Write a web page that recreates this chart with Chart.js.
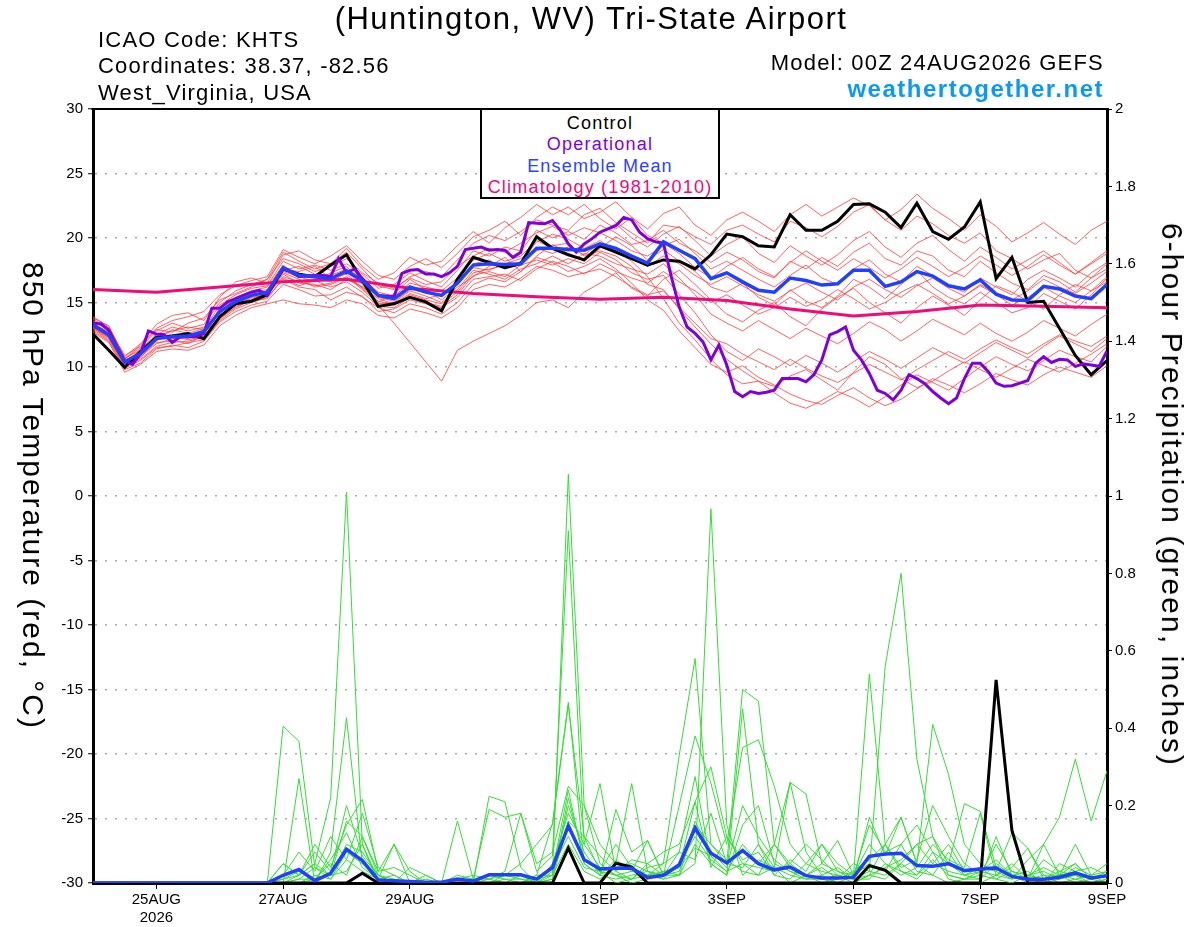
<!DOCTYPE html>
<html><head><meta charset="utf-8">
<script src="https://cdn.jsdelivr.net/npm/chart.js@4.4.1/dist/chart.umd.min.js"></script>
<style>
html,body{margin:0;padding:0;background:#fff;}
#wrap{position:relative;width:1200px;height:927px;overflow:hidden;font-family:'Liberation Sans',Arial,Helvetica,sans-serif;background:#fff;}
canvas{position:absolute;left:0;top:0;}
.t{position:absolute;white-space:nowrap;line-height:1;color:#000;}
#legend{position:absolute;left:480px;top:108px;width:240px;height:91px;box-sizing:border-box;border:2px solid #000;background:#fff;}
#legend div{position:absolute;left:0;width:100%;text-align:center;font-size:18px;letter-spacing:1.2px;line-height:1;white-space:nowrap;}
</style></head><body>
<div id="wrap">
<canvas id="c" width="1200" height="927"></canvas>
<div class="t" style="left:591px;top:3px;font-size:31px;letter-spacing:1.5px;transform:translateX(-50%)">(Huntington, WV) Tri-State Airport</div>
<div class="t" style="left:98px;top:29px;font-size:22px;letter-spacing:1.2px">ICAO Code: KHTS</div>
<div class="t" style="left:98px;top:55px;font-size:22px;letter-spacing:1.2px">Coordinates: 38.37, -82.56</div>
<div class="t" style="left:98px;top:82px;font-size:22px;letter-spacing:1.2px">West_Virginia, USA</div>
<div class="t" style="right:96px;top:52px;font-size:22px;letter-spacing:1.2px">Model: 00Z 24AUG2026 GEFS</div>
<div class="t" style="right:96px;top:77px;font-size:24px;letter-spacing:1.5px;font-weight:bold;color:#0a9af5">weathertogether.net</div>
<div class="t" style="left:33px;top:496px;font-size:30px;letter-spacing:2px;transform:translate(-50%,-50%) rotate(90deg)">850 hPa Temperature (red, °C)</div>
<div class="t" style="left:1172px;top:495px;font-size:30px;letter-spacing:2.1px;transform:translate(-50%,-50%) rotate(90deg)">6-hour Precipitation (green, inches)</div>
<div id="legend">
  <div style="top:4px;color:#000">Control</div>
  <div style="top:25px;color:#8000dd">Operational</div>
  <div style="top:46.5px;color:#2a44ff">Ensemble Mean</div>
  <div style="top:68px;color:#ee0a7a">Climatology (1981-2010)</div>
</div>
</div>
<script>
// ---------------- DATA ----------------
// Time steps (hours from 00Z 24AUG2026)
const STEP_HOURS = 6;      // ensemble / control / mean
const OP_STEP_HOURS = 3;   // operational run
const CLIM_STEP_HOURS = 24;// climatology (daily)

const tickHours  = [24, 72, 120, 192, 240, 288, 336, 384];
const tickLabels = [['25AUG','2026'], '27AUG', '29AUG', '1SEP', '3SEP', '5SEP', '7SEP', '9SEP'];

// 850 hPa temperature (C)
const controlTemp = [12.55,11.3,9.97,11.2,12.3,12.4,12.6,12.2,
 13.9,14.9,15.1,15.6,17.6,17.2,17.0,17.9,
 18.7,16.7,14.7,14.9,15.4,15.05,14.35,16.8,
 18.5,18.1,17.7,18.0,20.1,19.2,18.7,18.3,
 19.4,18.9,18.4,17.9,18.3,18.2,17.6,18.7,
 20.3,20.1,19.4,19.3,21.8,20.6,20.6,21.3,
 22.6,22.65,22.0,20.8,22.7,20.5,19.9,20.85,
 22.8,16.85,18.5,15.0,15.1,13.0,10.9,9.4,
 10.5];

const meanTemp = [13.25,12.5,10.4,11.05,12.2,12.35,12.4,12.75,
 14.3,15.05,15.55,15.8,17.7,17.1,17.0,16.85,
 17.45,16.7,15.55,15.3,16.2,15.8,15.55,16.5,
 17.9,18.0,17.95,18.0,19.2,19.2,19.1,19.05,
 19.55,19.2,18.6,18.05,19.7,19.05,18.4,16.85,
 17.3,16.6,15.95,15.8,16.9,16.7,16.35,16.45,
 17.5,17.5,16.25,16.6,17.4,17.05,16.3,16.05,
 16.75,15.65,15.2,15.15,16.25,16.05,15.5,15.3,
 16.4];

const operationalTemp = [13.4,13.35,12.85,11.6,10.5,10.2,11.05,12.8,
 12.55,12.5,11.9,12.35,12.35,12.35,12.6,14.55,
 14.55,15.05,15.3,15.55,15.8,15.95,15.55,16.7,
 17.6,17.35,17.0,17.1,17.1,17.1,17.0,18.4,
 17.3,17.6,16.85,16.2,15.55,15.5,15.45,17.25,
 17.5,17.55,17.2,17.2,17.0,17.3,17.8,19.1,
 19.2,19.3,19.05,19.1,19.05,18.5,18.9,21.2,
 21.15,21.1,21.35,20.6,19.55,18.9,19.55,19.95,
 20.45,20.7,20.95,21.6,21.4,20.45,19.95,19.7,
 19.6,17.0,14.65,13.1,12.6,11.95,10.55,11.7,
 10.15,8.1,7.7,8.1,7.95,8.05,8.2,9.1,
 9.1,9.1,8.85,9.4,10.55,12.5,12.75,13.1,
 11.3,10.55,9.5,8.2,7.95,7.45,8.2,9.4,
 9.1,8.7,8.1,7.6,7.15,7.6,9.1,10.3,
 10.3,9.65,8.75,8.5,8.55,8.75,8.95,10.3,
 10.8,10.35,10.6,10.55,10.05,10.25,10.15,10.05,
 11.25];

const climatologyTemp = [16.0,15.8,16.2,16.6,16.8,16.1,15.7,15.45,15.25,15.4,15.15,14.5,13.95,14.3,14.8,14.7,14.6];

const memberTemp01 = [13.6,12.8,10.6,11.5,12.8,13.4,13.0,13.3, 15.0,15.9,16.4,16.8,18.9,18.2,17.6,18.0, 18.9,17.6,16.3,16.0,17.0,17.4,17.0,18.3, 19.6,20.2,19.8,20.5,21.4,21.0,20.6,21.8, 22.3,21.2,20.4,19.6,21.0,20.8,20.1,19.5, 20.6,21.0,20.3,19.7,21.3,20.8,20.1,20.9, 22.0,22.6,21.4,20.6,21.7,21.1,20.2,19.6, 20.4,19.0,18.4,17.6,18.3,18.8,17.5,16.9, 18.0];
const memberTemp02 = [13.0,12.2,10.1,10.6,11.6,11.9,12.0,12.3, 13.8,14.6,15.2,15.5,17.2,16.5,16.4,16.0, 16.8,16.2,15.1,14.8,15.6,15.2,14.9,15.8, 17.3,17.6,17.9,18.1,19.7,20.3,19.9,19.2, 19.8,19.0,18.2,17.0,15.3,13.4,12.1,10.6, 9.4,8.7,8.9,8.5,9.3,9.8,9.0,8.2, 9.6,10.8,10.2,9.1,8.4,8.9,9.7,10.4, 9.8,9.2,9.9,10.6,10.1,9.6,10.3,11.0, 11.8];
const memberTemp03 = [13.2,12.4,10.3,11.0,12.6,12.1,11.8,12.5, 14.6,15.2,15.0,15.9,17.6,17.4,17.8,16.9, 17.2,16.1,15.0,15.7,16.8,16.0,15.2,16.2, 17.0,17.8,18.5,17.4,18.6,19.5,18.8,18.2, 19.2,20.1,19.4,18.3,19.1,18.2,17.4,16.2, 15.8,16.5,15.4,14.8,16.0,15.1,14.6,15.5, 16.8,16.2,15.3,16.4,17.5,16.2,15.4,14.9, 15.8,15.0,14.2,14.6,15.7,15.1,14.5,15.6, 16.9];
const memberTemp04 = [13.4,12.6,10.5,11.2,12.0,12.9,12.6,13.0, 14.2,15.4,15.9,16.2,17.9,17.0,16.6,17.3, 17.8,16.4,14.8,13.4,11.9,10.4,8.9,11.3, 12.0,12.6,13.2,14.0,15.0,15.2,14.6,15.8, 16.5,17.3,16.1,15.5,16.8,17.5,16.4,15.2, 14.1,13.5,14.4,15.0,13.9,13.2,14.5,15.4, 16.1,15.0,14.2,13.4,14.6,15.5,14.8,14.0, 15.2,16.3,15.8,15.1,14.5,15.6,16.4,15.9, 17.0];
const memberTemp05 = [13.9,13.1,10.8,11.8,13.3,14.0,14.2,13.6, 15.4,16.6,16.9,16.5,18.7,19.0,18.3,18.0, 19.2,17.8,16.8,17.3,18.5,17.9,18.2,19.4, 20.5,19.6,20.8,21.6,22.6,21.8,22.4,21.5, 22.0,22.8,21.6,20.7,21.9,22.4,21.0,20.2, 21.4,22.0,21.3,20.5,21.8,22.6,21.7,22.4, 23.1,22.5,21.4,22.2,23.4,22.3,21.5,20.6, 21.8,20.9,19.7,20.4,21.2,20.3,19.5,20.6, 21.3];
const memberTemp06 = [12.8,12.0,9.8,10.3,11.4,11.7,11.5,12.0, 13.5,14.3,14.8,15.1,16.4,16.0,15.5,15.6, 16.2,15.4,14.6,14.2,14.9,14.6,14.1,15.0, 16.4,16.9,16.6,17.4,18.5,18.1,17.4,17.8, 18.4,17.6,16.5,15.2,14.4,12.8,11.5,10.2, 9.6,10.1,9.2,8.6,7.9,7.4,7.1,7.8, 8.4,7.6,7.0,7.5,8.3,9.1,8.6,8.0, 8.7,9.5,9.0,8.6,9.4,10.0,9.6,9.2, 10.1];
const memberTemp07 = [13.5,12.9,10.7,11.3,12.4,12.8,13.1,12.9, 14.8,15.6,16.1,16.3,18.2,17.6,17.9,17.5, 18.0,17.2,16.1,16.4,17.3,16.7,16.2,17.5, 19.0,18.6,19.3,19.0,20.6,20.0,20.5,19.9, 21.0,20.4,19.5,19.8,20.6,19.6,19.0,18.1, 18.9,18.3,17.4,16.9,18.2,17.6,18.5,17.8, 18.9,19.6,18.4,17.9,19.0,18.6,17.5,17.0, 18.2,17.3,16.5,16.0,17.1,16.6,15.8,16.9, 17.6];
const memberTemp08 = [13.1,12.3,10.2,10.8,11.8,12.2,12.3,12.6, 13.9,14.8,15.4,15.6,17.0,16.6,16.3,16.5, 17.0,16.0,14.9,15.0,15.9,15.5,15.0,16.0, 17.5,17.2,16.8,17.6,18.0,18.6,18.0,18.8, 18.6,18.0,17.6,17.2,18.0,16.9,15.6,14.1, 13.4,12.8,13.6,12.9,12.2,13.0,12.4,11.8, 12.6,13.5,12.9,12.0,12.8,13.7,13.1,12.5, 13.4,12.6,12.0,12.7,13.6,13.0,12.4,13.3, 14.1];
const memberTemp09 = [13.3,12.5,10.4,11.1,12.3,12.5,12.2,12.8, 14.4,14.9,15.6,15.9,17.4,17.0,16.9,16.6, 17.3,16.5,15.4,15.1,16.0,15.8,15.5,16.4, 18.0,18.3,17.6,18.2,19.0,19.4,19.6,18.6, 19.0,18.6,17.8,16.4,16.0,14.5,13.1,11.8, 10.6,9.7,8.9,8.0,7.2,6.8,7.4,8.1, 7.6,6.9,7.7,8.6,9.4,8.8,8.2,9.1, 10.0,10.8,10.2,9.7,10.5,11.3,10.8,10.4, 11.6];
const memberTemp10 = [13.7,13.0,10.9,11.6,12.9,12.7,13.4,13.8, 15.2,15.7,16.2,16.8,18.4,18.0,17.4,17.8, 18.4,17.3,16.5,16.1,16.9,16.4,16.6,17.8, 18.6,19.2,18.9,19.6,20.4,20.9,20.2,20.8, 20.4,21.1,20.0,19.3,20.3,20.9,19.8,18.6, 19.5,20.1,18.8,18.1,19.4,18.6,17.9,18.7, 19.8,20.5,19.3,18.5,19.6,20.2,19.1,18.2, 19.3,18.5,17.6,18.3,19.0,18.1,17.2,18.0, 18.8];
const memberTemp11 = [12.9,12.1,9.9,10.5,11.5,11.6,11.9,12.1, 13.6,14.5,15.0,15.4,16.8,16.2,16.0,15.2, 15.8,15.5,14.3,14.5,15.2,14.9,14.6,15.4, 16.8,17.0,17.2,16.7,17.6,18.2,17.8,17.2, 18.0,17.4,16.9,16.5,17.4,16.6,15.9,15.0, 15.6,14.8,14.1,14.6,15.4,14.7,15.2,16.0, 15.3,14.5,15.0,15.8,16.4,15.7,14.9,15.5, 16.3,15.6,14.8,15.4,16.2,15.5,15.0,15.9, 16.6];
const memberTemp12 = [13.4,12.7,10.2,11.4,12.5,13.1,12.8,13.1, 14.1,15.3,15.8,16.0,17.5,17.8,17.2,17.1, 17.6,16.9,15.8,15.5,16.5,16.2,15.9,16.9, 18.3,18.8,18.2,18.6,19.8,19.2,19.0,19.4, 20.4,19.8,19.0,18.6,19.4,19.9,18.8,17.6, 18.2,17.5,16.8,16.2,17.1,17.9,16.9,16.4, 17.6,18.3,17.2,16.6,17.8,17.1,16.3,15.8, 16.9,16.2,15.6,16.8,17.5,16.9,16.2,17.3, 18.1];
const memberTemp13 = [13.0,12.3,10.0,10.9,11.9,12.0,12.4,12.2, 13.7,14.7,15.1,15.3,16.9,16.3,16.7,16.2, 16.6,15.8,14.7,14.6,15.4,15.0,14.7,15.6, 17.1,17.4,17.0,17.9,18.3,17.9,18.4,18.0, 18.9,18.3,17.3,16.8,17.1,15.6,14.2,12.5, 11.2,10.5,11.4,10.8,10.1,10.9,10.3,9.6, 10.4,11.2,10.6,9.9,10.7,11.5,10.9,10.3, 11.1,11.9,11.3,10.7,11.6,12.4,11.8,11.2, 12.2];
const memberTemp14 = [13.8,13.2,10.6,11.7,13.0,13.6,13.9,14.3, 15.6,16.3,16.7,17.0,19.1,18.5,18.0,18.6, 19.4,18.2,17.1,16.8,17.8,18.4,17.7,18.8, 20.1,20.6,21.3,20.2,21.6,22.4,21.8,22.6, 21.5,20.7,21.6,20.2,19.6,18.8,17.7,16.9, 17.8,18.5,17.6,17.0,18.1,19.0,18.2,17.5, 18.4,17.7,16.9,17.6,18.5,17.8,17.0,17.7, 18.6,17.9,17.1,17.8,18.7,17.9,17.2,18.1, 19.0];
const memberTemp15 = [13.1,12.4,10.3,10.7,12.1,12.4,12.1,12.4, 14.0,14.8,15.3,15.7,17.3,16.8,16.2,16.4, 16.9,16.2,15.3,14.9,15.7,15.3,15.6,16.6, 17.7,17.5,18.0,18.4,19.2,18.8,19.3,18.7, 19.6,19.0,18.4,17.8,18.6,18.0,17.1,16.4, 17.0,16.3,15.6,15.1,15.9,16.5,15.8,15.2, 16.2,16.8,16.0,15.4,16.3,16.9,16.1,15.5, 16.4,15.7,15.2,15.9,16.8,16.2,15.7,16.5, 17.4];
const memberTemp16 = [12.7,11.9,9.6,10.2,11.2,11.4,11.3,11.7, 13.2,14.0,14.6,14.9,15.2,14.9,14.8,14.6, 15.2,14.9,14.0,13.8,14.5,14.2,13.8,14.6, 16.0,16.4,16.2,16.9,17.8,17.5,17.0,17.3, 17.6,17.0,16.2,15.6,15.9,14.6,13.4,12.2, 11.8,11.0,10.4,9.8,10.6,9.9,9.3,8.8, 9.5,10.2,9.6,9.0,9.8,10.5,11.2,10.6, 11.4,12.1,11.5,11.0,11.8,12.5,12.0,11.6, 12.4];

// 6-hour precipitation (inches)
const controlPrecip = [0,0,0,0,0,0,0,0, 0,0,0,0,0,0,0,0, 0,0.025,0,0,0,0,0,0, 0,0,0,0,0,0,0.09,0, 0,0.051,0.041,0,0,0,0,0, 0,0,0,0,0,0,0,0, 0,0.045,0.033,0,0,0,0,0, 0,0.525,0.136,0,0,0,0,0, 0];
const meanPrecip = [0,0,0,0,0,0,0,0, 0,0,0,0,0.02,0.035,0.006,0.025, 0.087,0.058,0.008,0.006,0.004,0.002,0.002,0.01, 0.005,0.021,0.021,0.021,0.01,0.04,0.148,0.06, 0.036,0.038,0.038,0.014,0.02,0.047,0.142,0.077, 0.052,0.084,0.05,0.034,0.041,0.019,0.013,0.013, 0.015,0.069,0.075,0.077,0.045,0.043,0.05,0.032, 0.036,0.039,0.017,0.01,0.01,0.015,0.026,0.013, 0.019];

const memberPrecip01 = [0,0,0,0,0,0,0,0, 0,0,0,0,0,0.02,0.05,0.22, 1.01,0.1,0,0,0,0,0,0, 0,0,0.02,0.05,0.1,0.15,0.46,0.12, 0.03,0,0.01,0.05,0.08,0.1,0.21,0.3, 0.12,0.05,0.02,0.1,0.26,0.08,0.02,0, 0,0.02,0.1,0.17,0.05,0.02,0,0.01, 0.03,0.06,0.02,0,0,0.01,0.04,0.02, 0.05];
const memberPrecip02 = [0,0,0,0,0,0,0,0, 0,0,0,0,0.405,0.366,0.04,0.01, 0.06,0.03,0.01,0,0,0,0,0, 0,0.224,0.21,0.04,0,0.02,1.056,0.2, 0.05,0.02,0,0.01,0.03,0.02,0.05,0.967, 0.15,0.02,0.06,0.04,0,0.02,0.05,0.11, 0.02,0.54,0.1,0.03,0.02,0.08,0.01,0, 0,0.02,0.01,0.06,0.1,0.02,0,0.01, 0.02];
const memberPrecip03 = [0,0,0,0,0,0,0,0, 0,0,0,0,0,0.27,0,0.08, 0.427,0.05,0.02,0,0,0,0,0.16, 0.01,0.19,0.17,0.18,0.03,0.07,0.91,0.1, 0.257,0.03,0.01,0.02,0.05,0.33,0.58,0.1, 0.05,0.5,0.47,0.1,0.05,0.02,0,0.01, 0.05,0.03,0.56,0.8,0.32,0.12,0.02,0.01, 0.01,0.05,0.02,0.03,0,0.02,0.05,0.01, 0];
const memberPrecip04 = [0,0,0,0,0,0,0,0, 0,0,0,0,0.05,0.02,0.1,0.04, 0.15,0.216,0.03,0.1,0.03,0,0,0, 0,0,0.01,0,0.02,0.155,0.467,0.05, 0.02,0.19,0.08,0.11,0.02,0.2,0.38,0.258, 0.1,0.35,0.37,0.25,0.1,0.05,0.03,0.02, 0.01,0.17,0.07,0.17,0.05,0.41,0.28,0.1, 0.05,0.03,0.13,0.09,0.02,0.02,0.01,0, 0.01];
const memberPrecip05 = [0,0,0,0,0,0,0,0, 0,0,0,0,0.02,0.08,0.03,0.12, 0.06,0.18,0.04,0.02,0,0.02,0,0.01, 0.02,0.01,0.03,0.18,0.05,0.08,0.25,0.2, 0.1,0.05,0.257,0.03,0.02,0.08,0.275,0.05, 0.02,0.45,0.1,0.04,0.26,0.23,0.05,0.03, 0.02,0.05,0.03,0.1,0.15,0.08,0.05,0.205, 0.185,0.04,0.02,0.01,0.1,0.17,0.32,0.16, 0.29];
const memberPrecip06 = [0,0,0,0,0,0,0,0, 0,0,0,0,0.01,0.03,0.01,0.05, 0.02,0.12,0.02,0,0.04,0.02,0,0, 0,0.02,0.01,0.01,0,0.05,0.18,0.1, 0.04,0.02,0.03,0.11,0.02,0.04,0.21,0.04, 0.12,0.06,0.08,0.02,0.01,0.05,0.1,0.03, 0.01,0.01,0.05,0.02,0.04,0.1,0.06,0.04, 0.18,0.02,0.05,0.01,0,0.05,0.03,0.01, 0.03];
const memberPrecip07 = [0,0,0,0,0,0,0,0, 0,0,0,0,0,0,0.02,0.01, 0.08,0.05,0.01,0.1,0,0,0,0, 0,0,0,0,0,0.03,0.24,0.05, 0.02,0.06,0.03,0.02,0.01,0.05,0.12,0.06, 0.03,0.1,0.05,0.1,0.04,0.02,0.01,0, 0.02,0.1,0.05,0.03,0.01,0.05,0.1,0.03, 0.04,0.01,0,0.02,0.03,0.01,0.02,0, 0.01];
const memberPrecip08 = [0,0,0,0,0,0,0,0, 0,0,0,0,0,0.01,0.04,0.02, 0.03,0.1,0.01,0.02,0,0,0,0, 0,0,0,0,0.02,0.02,0.1,0.03, 0.01,0.04,0.05,0.03,0.02,0.02,0.15,0.1, 0.06,0.03,0.02,0.04,0.02,0.01,0.02,0.04, 0.01,0.02,0.01,0.05,0.02,0.06,0.02,0.01, 0.02,0.1,0.03,0.01,0.02,0,0.01,0.02, 0];
const memberPrecip09 = [0,0,0,0,0,0,0,0, 0,0,0,0,0.01,0.02,0.08,0.03, 0.2,0.07,0.02,0.01,0,0.01,0,0.02, 0.01,0.01,0.02,0.01,0.01,0.04,0.12,0.04, 0.03,0.02,0.01,0.04,0.05,0.08,0.06,0.18, 0.05,0.04,0.1,0.02,0.06,0.03,0.1,0.05, 0.02,0.15,0.08,0.1,0.03,0.02,0.08,0.02, 0.01,0.12,0.02,0.01,0.06,0.03,0.05,0.01, 0.02];
const memberPrecip10 = [0,0,0,0,0,0,0,0, 0,0,0,0,0,0,0.01,0.06, 0.13,0.04,0.01,0,0,0,0,0, 0,0.01,0,0,0.01,0.02,0.2,0.08, 0.02,0.01,0.02,0.03,0.01,0.02,0.1,0.05, 0.02,0.15,0.2,0.05,0.03,0.01,0.01,0.02, 0.01,0.03,0.02,0.05,0.1,0.12,0.05,0.02, 0.03,0.02,0.04,0.09,0.01,0.02,0.1,0.02, 0.03];
const memberPrecip11 = [0,0,0,0,0,0,0,0, 0,0,0,0,0,0.01,0.01,0.02, 0.1,0.08,0.02,0,0,0,0,0, 0,0,0,0.02,0,0.01,0.22,0.06, 0.03,0.1,0.04,0.02,0.03,0.04,0.09,0.07, 0.03,0.05,0.04,0.03,0.05,0.1,0.06,0.02, 0,0.02,0.04,0.06,0.1,0.05,0.03,0.02, 0.04,0.03,0.01,0.02,0.04,0.02,0.03,0.04, 0.02];
const memberPrecip12 = [0,0,0,0,0,0,0,0, 0,0,0,0,0.05,0.02,0.05,0.02, 0.16,0.12,0.03,0.04,0.02,0,0,0, 0,0,0,0,0,0.01,0.16,0.12, 0.07,0.03,0.06,0.05,0.02,0.03,0.16,0.08, 0.04,0.2,0.12,0.06,0.03,0.02,0.04,0.01, 0.03,0.06,0.1,0.04,0.06,0.2,0.12,0.05, 0.02,0.01,0.03,0.02,0.01,0.03,0.02,0.01, 0.02];

const memberTemps = [memberTemp01,memberTemp02,memberTemp03,memberTemp04,memberTemp05,memberTemp06,memberTemp07,memberTemp08,
  memberTemp09,memberTemp10,memberTemp11,memberTemp12,memberTemp13,memberTemp14,memberTemp15,memberTemp16];
const memberPrecips = [memberPrecip01,memberPrecip02,memberPrecip03,memberPrecip04,memberPrecip05,memberPrecip06,
  memberPrecip07,memberPrecip08,memberPrecip09,memberPrecip10,memberPrecip11,memberPrecip12];

// ---------------- CHART ----------------
const FONT = "'Liberation Sans', Arial, Helvetica, sans-serif";
Chart.defaults.font.family = FONT;

function toPoints(arr, step) { return arr.map((v, i) => ({x: i * step, y: v})); }

const RED = 'rgba(255,55,55,0.78)';
const GREEN = '#33dd33';
const BLACK = '#000000';
const PURPLE = '#7f00dd';
const BLUE = '#2040ff';
const PINK = '#f00a7c';

const datasets = [];
memberTemps.forEach(m => datasets.push({data: toPoints(m, STEP_HOURS), yAxisID: 'y', borderColor: RED, borderWidth: 1, order: 6}));
memberPrecips.forEach(m => datasets.push({data: toPoints(m, STEP_HOURS), yAxisID: 'y2', borderColor: GREEN, borderWidth: 1, order: 5}));
datasets.push({data: toPoints(climatologyTemp, CLIM_STEP_HOURS), yAxisID: 'y', borderColor: PINK, borderWidth: 3, order: 4});
datasets.push({data: toPoints(controlTemp, STEP_HOURS), yAxisID: 'y', borderColor: BLACK, borderWidth: 3, order: 3});
datasets.push({data: toPoints(controlPrecip, STEP_HOURS), yAxisID: 'y2', borderColor: BLACK, borderWidth: 3, order: 3});
datasets.push({data: toPoints(operationalTemp, OP_STEP_HOURS), yAxisID: 'y', borderColor: PURPLE, borderWidth: 3, order: 2});
datasets.push({data: toPoints(meanTemp, STEP_HOURS), yAxisID: 'y', borderColor: BLUE, borderWidth: 3.5, order: 1});
datasets.push({data: toPoints(meanPrecip, STEP_HOURS), yAxisID: 'y2', borderColor: BLUE, borderWidth: 3.5, order: 1});

const framePlugin = {
  id: 'frame',
  afterDraw(chart) {
    const {ctx, chartArea: a} = chart;
    ctx.save();
    ctx.strokeStyle = '#000';
    ctx.lineWidth = 2;
    ctx.beginPath();
    ctx.moveTo(a.left - 1.5, a.top);
    ctx.lineTo(a.right + 1.5, a.top);
    ctx.stroke();
    ctx.restore();
  }
};

new Chart(document.getElementById('c'), {
  type: 'line',
  data: {datasets},
  options: {
    responsive: false,
    animation: false,
    devicePixelRatio: 1,
    layout: {padding: {top: 109, left: 0, right: 0, bottom: 0}},
    plugins: {legend: {display: false}, tooltip: {enabled: false}},
    elements: {point: {radius: 0}, line: {tension: 0}},
    scales: {
      x: {
        type: 'linear', position: 'bottom', min: 0, max: 384,
        afterBuildTicks: s => { s.ticks = tickHours.map(v => ({value: v})); },
        afterFit: s => { s.height = 44; },
        ticks: {autoSkip: false, maxRotation: 0, color: '#000', font: {size: 15}, padding: 2,
                callback: (v, i) => tickLabels[i]},
        grid: {drawOnChartArea: false, drawTicks: true, tickLength: 6, color: '#000', lineWidth: 1},
        border: {display: true, color: '#000', width: 3}
      },
      y: {
        type: 'linear', position: 'left', min: -30, max: 30,
        afterFit: s => { s.width = 93; },
        ticks: {stepSize: 5, color: '#000', font: {size: 15}, padding: 5},
        grid: {color: '#aaaaaa', lineWidth: 1.5, drawTicks: true, tickLength: 5, tickColor: '#000', tickWidth: 1},
        border: {display: true, color: '#000', width: 3, dash: [2, 8]}
      },
      y2: {
        type: 'linear', position: 'right', min: 0, max: 2,
        afterFit: s => { s.width = 93; },
        ticks: {stepSize: 0.2, color: '#000', font: {size: 15}, padding: 3,
                callback: v => String(Math.round(v * 10) / 10)},
        grid: {drawOnChartArea: false, drawTicks: true, tickLength: 5, color: '#000', lineWidth: 1},
        border: {display: true, color: '#000', width: 3}
      }
    }
  },
  plugins: [framePlugin]
});
</script>
</body></html>
